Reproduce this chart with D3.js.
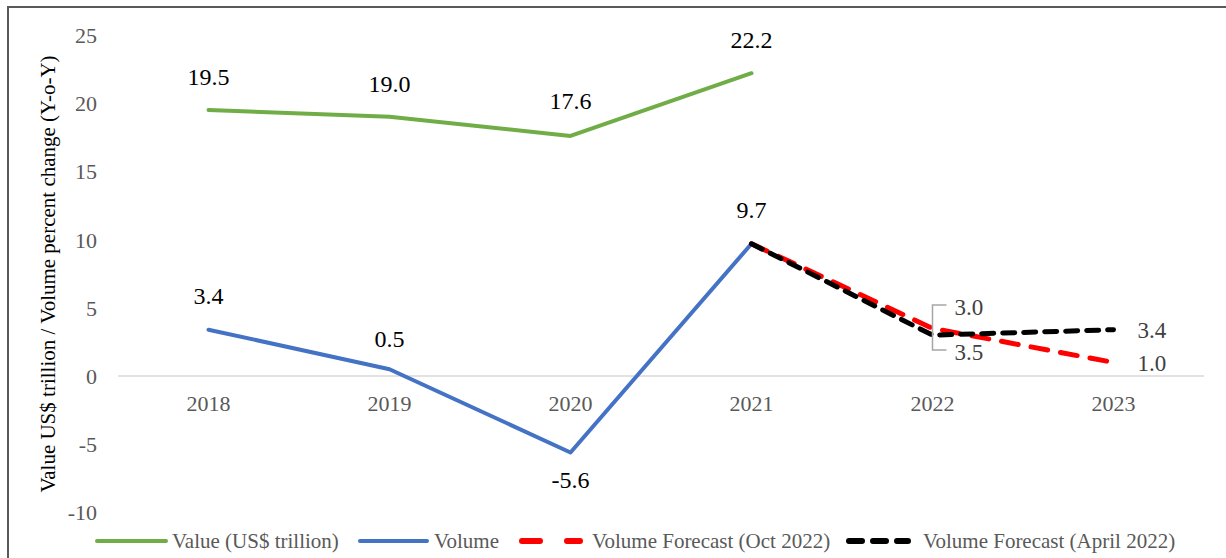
<!DOCTYPE html>
<html>
<head>
<meta charset="utf-8">
<script src="https://cdn.jsdelivr.net/npm/d3@7"></script>
<style>
  html, body { margin: 0; padding: 0; background: #fff; }
  svg { display: block; }
  svg text { font-family: "Liberation Serif", "Times New Roman", serif; }
</style>
</head>
<body>
<svg id="chart" width="1226" height="558" font-family="Liberation Serif"></svg>
<script>
// Categories and series
const years = ["2018", "2019", "2020", "2021", "2022", "2023"];
const valueSeries = [19.5, 19.0, 17.6, 22.2, null, null];
const volumeSeries = [3.4, 0.5, -5.6, 9.7, null, null];
const forecastOct = [null, null, null, 9.7, 3.5, 1.0];
const forecastApril = [null, null, null, 9.7, 3.0, 3.4];
const yTicks = [-10, -5, 0, 5, 10, 15, 20, 25];

const FONT = "Liberation Serif";
const svg = d3.select("#chart");
const W = 1226, H = 558;

// outer frame
svg.append("rect")
  .attr("x", 8).attr("y", 7).attr("width", W + 20).attr("height", H + 20)
  .attr("fill", "none").attr("stroke", "#595959").attr("stroke-width", 2);

const x = d3.scaleBand().domain(years).range([118, 1204]);
const y = d3.scaleLinear().domain([-10, 25]).range([512.5, 35]);
const cx = d => x(d) + x.bandwidth() / 2;

// y tick labels
const yAxis = d3.axisLeft(y).tickValues(yTicks).tickSize(0).tickPadding(0).tickFormat(d => String(d));
const gy = svg.append("g").attr("transform", "translate(97,0)").call(yAxis)
  .attr("font-family", FONT);
gy.select(".domain").remove();
gy.selectAll("text").attr("font-family", FONT).attr("font-size", 22)
  .attr("fill", "#595959").attr("dy", "0.34em").attr("x", 0);

// zero line
svg.append("line")
  .attr("x1", 118).attr("x2", 1204).attr("y1", y(0)).attr("y2", y(0))
  .attr("stroke", "#d9d9d9").attr("stroke-width", 1.5);

// x category labels
const xAxis = d3.axisBottom(x).tickSize(0).tickPadding(0);
const gx = svg.append("g").attr("transform", `translate(0,${y(0)})`).call(xAxis)
  .attr("font-family", FONT);
gx.select(".domain").remove();
gx.selectAll("text").attr("font-family", FONT).attr("font-size", 22)
  .attr("fill", "#595959").attr("dy", null).attr("y", 35);

// y axis title
svg.append("text")
  .attr("transform", "translate(55,274) rotate(-90)")
  .attr("text-anchor", "middle")
  .attr("font-family", FONT)
  .attr("font-size", 21).attr("fill", "#000")
  .text("Value US$ trillion / Volume percent change (Y-o-Y)");

function pts(vals) {
  return years.map((yr, i) => ({ yr, v: vals[i] })).filter(d => d.v !== null);
}
const line = d3.line().x(d => cx(d.yr)).y(d => y(d.v));

const series = [
  { vals: valueSeries, color: "#70ad47", dash: null },
  { vals: volumeSeries, color: "#4472c4", dash: null },
  { vals: forecastOct, color: "#ff0000", dash: "17,13" },
  { vals: forecastApril, color: "#000000", dash: "12,9" }
];

series.forEach(s => {
  svg.append("path")
    .datum(pts(s.vals))
    .attr("d", line)
    .attr("fill", "none")
    .attr("stroke", s.color)
    .attr("stroke-width", s.dash ? 5 : 4)
    .attr("stroke-linecap", "round")
    .attr("stroke-linejoin", "round")
    .attr("stroke-dasharray", s.dash);
});

// data labels for value and volume
function labels(vals, offsets) {
  pts(vals).forEach((d, i) => {
    svg.append("text")
      .attr("x", cx(d.yr)).attr("y", y(d.v) + offsets[i])
      .attr("text-anchor", "middle")
      .attr("font-family", FONT)
      .attr("font-size", 24).attr("fill", "#000")
      .text(d.v.toFixed(1));
  });
}
labels(valueSeries, [-25, -25, -27, -25]);
labels(volumeSeries, [-26, -22, 36, -26]);

// forecast labels
const fcColor = "#404040";
const x22 = cx("2022"), x23 = cx("2023");
function fcLabel(xp, yp, v) {
  svg.append("text").attr("x", xp).attr("y", yp)
    .attr("font-family", FONT).attr("font-size", 23).attr("fill", fcColor)
    .text(v.toFixed(1));
}
fcLabel(x22 + 22, 315, forecastApril[4]);
fcLabel(x22 + 22, 360, forecastOct[4]);
fcLabel(x23 + 24, y(forecastApril[5]) + 8, forecastApril[5]);
fcLabel(x23 + 24, y(forecastOct[5]) + 9, forecastOct[5]);

// leader bracket for the 2022 labels
svg.append("path")
  .attr("d", `M${x22 + 14},305 H${x22} V350 H${x22 + 14}`)
  .attr("fill", "none").attr("stroke", "#a6a6a6").attr("stroke-width", 1.5);

// legend
const legendY = 541;
const legend = [
  { label: "Value (US$ trillion)", color: "#70ad47", dash: null, x1: 97, x2: 166, tx: 172 },
  { label: "Volume", color: "#4472c4", dash: null, x1: 360, x2: 427, tx: 434 },
  { label: "Volume Forecast (Oct 2022)", color: "#ff0000", dash: "18,27", x1: 522, x2: 580, tx: 592 },
  { label: "Volume Forecast (April 2022)", color: "#000000", dash: "13,11", x1: 849, x2: 908, tx: 923 }
];
legend.forEach(l => {
  svg.append("line")
    .attr("x1", l.x1).attr("x2", l.x2).attr("y1", legendY).attr("y2", legendY)
    .attr("stroke", l.color).attr("stroke-width", l.dash ? 6 : 4)
    .attr("stroke-linecap", "round")
    .attr("stroke-dasharray", l.dash);
  svg.append("text")
    .attr("x", l.tx).attr("y", legendY + 7)
    .attr("font-family", FONT)
    .attr("font-size", 21).attr("fill", "#595959")
    .text(l.label);
});
</script>
</body>
</html>
